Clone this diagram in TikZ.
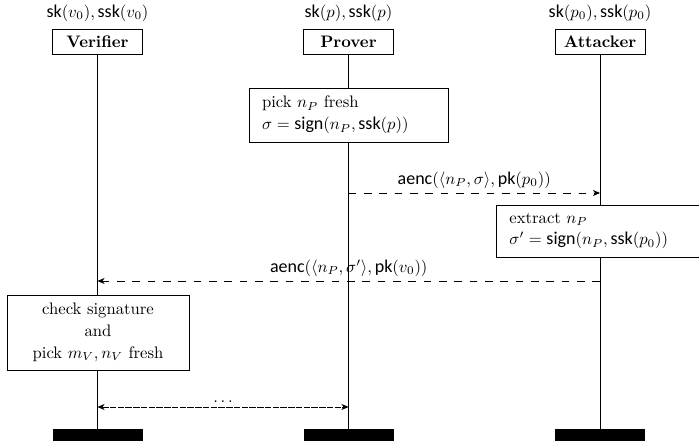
\documentclass[tikz,border=0pt]{standalone}
\usepackage{fontspec}
\newfontfamily\opfont[Scale=1.08]{Carlito}
\newcommand\op[1]{\mbox{\opfont #1}}
\usetikzlibrary{arrows.meta,backgrounds}
\begin{document}
\begin{tikzpicture}[x=0.6pt,y=-0.6pt,
  font=\fontsize{10}{13}\selectfont,
  line width=0.55pt,
  actorbox/.style={draw, fill=white, font=\fontsize{10}{13}\selectfont\bfseries, minimum width=54pt, minimum height=15pt, inner sep=0pt},
  keylabel/.style={inner sep=0pt},
  endbar/.style={fill=black, minimum width=54pt, minimum height=7.2pt, inner sep=0pt},
  actbox/.style={draw, fill=white, align=left, inner xsep=7.8pt, inner ysep=0pt},
  msg/.style={dash pattern=on 4.6pt off 4.6pt, -{Stealth[length=4.2pt,width=3.6pt,inset=1.2pt]}},
  msgtwo/.style={dash pattern=on 3.9pt off 0.75pt, {Stealth[length=4.2pt,width=3.6pt,inset=1.2pt]}-{Stealth[length=4.2pt,width=3.6pt,inset=1.2pt]}},
  lbl/.style={above, inner sep=2.5pt}
]
\useasboundingbox (0,0) rectangle (699,442);
\clip (0,0) rectangle (699,442);

% key labels
\node[keylabel] (Vk) at (97.5,13) {$\op{sk}(v_0),\op{ssk}(v_0)$};
\node[keylabel] (Pk) at (348.5,13) {$\op{sk}(p),\op{ssk}(p)$};
\node[keylabel] (Ak) at (600,13) {$\op{sk}(p_0),\op{ssk}(p_0)$};

% actor boxes
\node[actorbox] (V) at (97.5,42) {Verifier};
\node[actorbox] (P) at (348.5,42) {Prover};
\node[actorbox] (A) at (600,42) {Attacker};

% end bars
\node[endbar] (Vb) at (97.5,435) {};
\node[endbar] (Pb) at (348.5,435) {};
\node[endbar] (Ab) at (600,435) {};

% action boxes
\node[actbox, text width=103.8pt, minimum height=32.4pt] (Pact) at (348.5,115)
  {pick $n_P$ fresh\\ $\sigma = \op{sign}(n_P,\op{ssk}(p))$};
\node[actbox, text width=109.2pt, minimum height=31.2pt, anchor=west] (Aact) at (496,231)
  {extract $n_P$\\ $\sigma' = \op{sign}(n_P,\op{ssk}(p_0))$};
\node[draw, fill=white, align=center, minimum width=109.2pt, minimum height=45pt, inner sep=0pt] (Vact) at (98,332.5)
  {check signature\\and\\pick $m_V, n_V$ fresh};

% lifelines
\begin{scope}[on background layer]
  \draw (V) -- (Vb);
  \draw (P) -- (Pb);
  \draw (A) -- (Ab);
\end{scope}

% message anchors
\coordinate (p1) at (348.5,193);
\coordinate (a1) at (600,193);
\coordinate (a2) at (600,281);
\coordinate (v2) at (97.5,281);
\coordinate (v3) at (97.5,407);
\coordinate (p3) at (348.5,407);

\draw[msg] (p1) -- node[lbl] {$\op{aenc}(\langle n_P,\sigma\rangle,\op{pk}(p_0))$} (a1);
\draw[msg] (a2) -- node[lbl] {$\op{aenc}(\langle n_P,\sigma'\rangle,\op{pk}(v_0))$} (v2);
\draw[msgtwo] (v3) -- node[lbl] {$\dots$} (p3);
\end{tikzpicture}
\end{document}
